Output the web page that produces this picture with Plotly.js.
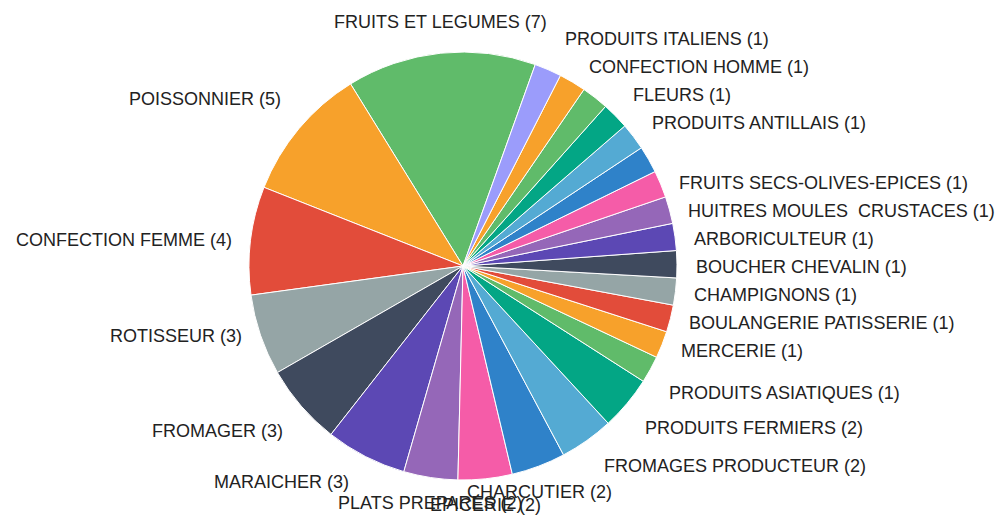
<!DOCTYPE html>
<html>
<head>
<meta charset="utf-8">
<script src="https://cdn.plot.ly/plotly-3.0.1.min.js"></script>
<style>
  html, body { margin: 0; padding: 0; background: #ffffff; }
  #chart { width: 1006px; height: 516px; }
</style>
</head>
<body>
<div id="chart"></div>
<script>
// Slices in drawing order (counterclockwise, starting with FRUITS ET LEGUMES)
const categories = [
  "FRUITS ET LEGUMES", "POISSONNIER", "CONFECTION FEMME", "ROTISSEUR", "FROMAGER",
  "MARAICHER", "PLATS PREPARES", "EPICERIE", "CHARCUTIER", "FROMAGES PRODUCTEUR",
  "PRODUITS FERMIERS", "PRODUITS ASIATIQUES", "MERCERIE", "BOULANGERIE PATISSERIE",
  "CHAMPIGNONS", "BOUCHER CHEVALIN", "ARBORICULTEUR", "HUITRES MOULES  CRUSTACES",
  "FRUITS SECS-OLIVES-EPICES", "AUTRE (1)", "PRODUITS ANTILLAIS", "FLEURS",
  "AUTRE (2)", "CONFECTION HOMME", "PRODUITS ITALIENS"
];
const counts = [7, 5, 4, 3, 3, 3, 2, 2, 2, 2, 2, 1, 1, 1, 1, 1, 1, 1, 1, 1, 1, 1, 1, 1, 1];
// two slices whose labels are not displayed in the reference (hidden by overlap)
const labelShown = [1,1,1,1,1,1,1,1,1,1,1,1,1,1,1,1,1,1,1,0,1,1,0,1,1];
const sliceColors = [
  "#60bb6a", "#f7a12b", "#e24c3a", "#95a5a6", "#3f4a5e", "#5c48b4", "#9567b8", "#f55ca8",
  "#2f82c9", "#54aad3", "#03a685", "#60bb6a", "#f7a12b", "#e24c3a", "#95a5a6", "#3f4a5e",
  "#5c48b4", "#9567b8", "#f55ca8", "#2f82c9", "#54aad3", "#03a685", "#60bb6a", "#f7a12b",
  "#9b9cfb"
];

const W = 1006, H = 516;
const margin = { l: 249, r: 329, t: 52, b: 36 };
const rotation = -31.7;
const fontFamily = "Liberation Sans, Arial, sans-serif";

// geometry of the pie (same as Plotly: radius = half of the smaller domain side)
const pw = W - margin.l - margin.r, ph = H - margin.t - margin.b;
const cx = margin.l + pw / 2, cy = margin.t + ph / 2, rad = Math.min(pw, ph) / 2;
const total = counts.reduce((a, b) => a + b, 0);
const unit = 360 / total;

let ang = rotation + counts[0] * unit;
const items = [];
counts.forEach((v, i) => {
  const mid = ang - v * unit / 2;
  ang -= v * unit;
  const t = mid * Math.PI / 180, s = Math.sin(t), c = Math.cos(t);
  const R = rad + 4;
  let px = cx + R * s, py = cy - R * c;
  let xanchor = "center";
  if (s > 0.375) { xanchor = "left"; px += 13; }
  else if (s < -0.375) { xanchor = "right"; px -= 13; }
  if (c > 0.42) py -= 27; else if (c < -0.42) py += 22;
  items.push({ i, px, py, xanchor });
});
// avoid overlaps of the stacked right-hand labels
const right = items.filter(o => o.xanchor === "left" && labelShown[o.i]).sort((p, q) => p.py - q.py);
for (let k = 1; k < right.length; k++) {
  if (right[k].py < right[k - 1].py + 28) right[k].py = right[k - 1].py + 28;
}

const annotations = items.filter(o => labelShown[o.i]).map(o => ({
  xref: "paper", yref: "paper",
  x: (o.px - margin.l) / pw,
  y: 1 - (o.py - margin.t) / ph,
  xanchor: o.xanchor, yanchor: "middle",
  text: categories[o.i] + " (" + counts[o.i] + ")",
  showarrow: false,
  font: { family: fontFamily, size: 18, color: "#222222" }
}));

const data = [{
  type: "pie",
  labels: categories,
  values: counts,
  sort: false,
  direction: "counterclockwise",
  rotation: rotation,
  textinfo: "none",
  hovertemplate: "%{label} (%{value})<extra></extra>",
  marker: { colors: sliceColors, line: { color: "#ffffff", width: 1 } },
  showlegend: false
}];

const layout = {
  width: W, height: H,
  margin: margin,
  paper_bgcolor: "#ffffff",
  plot_bgcolor: "#ffffff",
  showlegend: false,
  font: { family: fontFamily, size: 18, color: "#222222" },
  annotations: annotations
};

Plotly.newPlot("chart", data, layout, { displayModeBar: false, staticPlot: false });
</script>
</body>
</html>
